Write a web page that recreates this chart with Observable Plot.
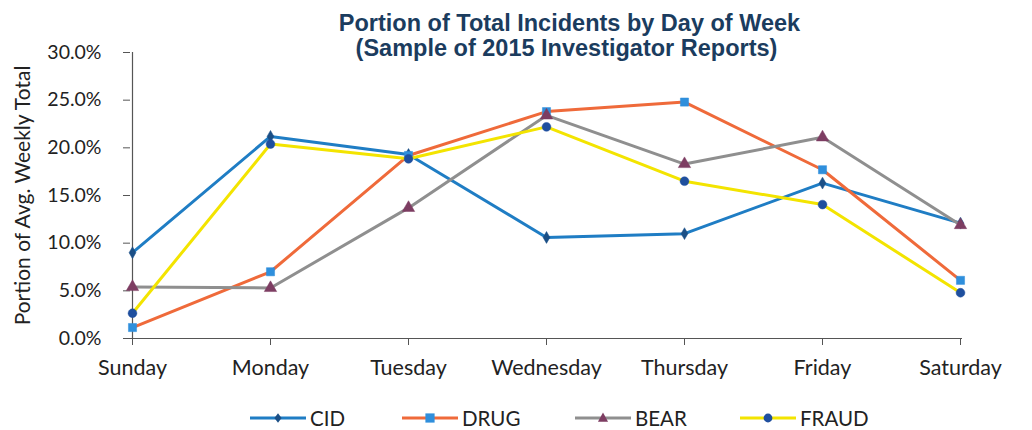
<!DOCTYPE html>
<html>
<head>
<meta charset="utf-8">
<script src="https://cdn.jsdelivr.net/npm/d3@7"></script>
<script src="https://cdn.jsdelivr.net/npm/@observablehq/plot@0.6"></script>
<style>
  body { margin: 0; background: #fff; width: 1032px; height: 430px; overflow: hidden; }
  #legend { position: relative; height: 35px; font-family: Lato, "Open Sans", sans-serif; font-size: 20.5px; color: #222; }
  .item { position: absolute; top: 12px; display: flex; align-items: center; gap: 4px; height: 22px; }
</style>
</head>
<body>
<div id="chart"></div>
<div id="legend"></div>
<script>
const days = ["Sunday", "Monday", "Tuesday", "Wednesday", "Thursday", "Friday", "Saturday"];
const seriesNames = ["CID", "DRUG", "BEAR", "FRAUD"];
const cid   = [0.090, 0.212, 0.193, 0.106, 0.110, 0.163, 0.121];
const drug  = [0.0115, 0.070, 0.192, 0.238, 0.248, 0.177, 0.061];
const bear  = [0.054, 0.053, 0.137, 0.234, 0.183, 0.211, 0.119];
const fraud = [0.0265, 0.204, 0.1885, 0.222, 0.165, 0.1405, 0.048];
const yTicks = [0, 0.05, 0.10, 0.15, 0.20, 0.25, 0.30];
const titleLines = ["Portion of Total Incidents by Day of Week", "(Sample of 2015 Investigator Reports)"];
const yLabel = "Portion of Avg. Weekly Total";

const styles = {
  CID:   {line: "#1f7dc4", mark: "#1b4f86", symbol: "diamond", r: 3.6},
  DRUG:  {line: "#ef6a3a", mark: "#2f8fdc", symbol: "square", r: 4.6},
  BEAR:  {line: "#8f8f8f", mark: "#7d3d62", symbol: "triangle", r: 4.6},
  FRAUD: {line: "#f3e400", mark: "#1f4f9e", symbol: "circle", r: 4.4}
};
const values = {CID: cid, DRUG: drug, BEAR: bear, FRAUD: fraud};
const data = seriesNames.flatMap(s => days.map((d, i) => ({series: s, day: d, value: values[s][i]})));

const font = 'Lato, "Open Sans", sans-serif';
const titleFont = '"Liberation Sans", Arial, sans-serif';
const marks = [];
marks.push(Plot.ruleY([0], {stroke: "#555", strokeWidth: 1.2}));
marks.push(Plot.ruleX([days[0]], {stroke: "#555", strokeWidth: 1.2}));
marks.push(Plot.axisY({ticks: yTicks, tickFormat: d3.format(".1%"), tickSize: 7, tickPadding: 22, fontSize: 19.5, fontFamily: font, label: null, stroke: "#555"}));
marks.push(Plot.axisX({tickSize: 7, tickPadding: 14, fontSize: 21.5, fontFamily: font, label: null, stroke: "#555"}));
for (const s of seriesNames) {
  const st = styles[s];
  const d = data.filter(r => r.series === s);
  marks.push(Plot.line(d, {x: "day", y: "value", stroke: st.line, strokeWidth: 3}));
  marks.push(Plot.dot(d, {x: "day", y: "value", symbol: st.symbol, r: st.r, fill: st.mark, stroke: st.mark, strokeWidth: 0.5}));
}
marks.push(Plot.text([titleLines[0]], {frameAnchor: "top", dx: 23, dy: -38, fontSize: 23.5, fontWeight: "bold", fontFamily: titleFont, fill: "#1b3c5e"}));
marks.push(Plot.text([titleLines[1]], {frameAnchor: "top", dx: 20, dy: -13, fontSize: 23.5, fontWeight: "bold", fontFamily: titleFont, fill: "#1b3c5e"}));
marks.push(Plot.text([yLabel], {frameAnchor: "left", textAnchor: "middle", dx: -107, rotate: -90, fontSize: 21, fontFamily: font, fill: "#222"}));

const chart = Plot.plot({
  width: 1032, height: 395,
  marginLeft: 130, marginRight: 70, marginTop: 52, marginBottom: 57,
  style: {fontFamily: font, color: "#222", background: "#fff", overflow: "visible"},
  x: {type: "point", domain: days, padding: 0},
  y: {domain: [0, 0.30]},
  marks
});
document.getElementById("chart").append(chart);

const legend = document.getElementById("legend");
const legendLeft = [250, 402, 575, 740];
const symPaths = {
  diamond: r => `M0,${-r*1.3}L${r},0L0,${r*1.3}L${-r},0Z`,
  square: r => `M${-r},${-r}h${2*r}v${2*r}h${-2*r}Z`,
  triangle: r => `M0,${-r*1.2}L${r*1.1},${r*0.8}L${-r*1.1},${r*0.8}Z`,
  circle: r => `M${r},0A${r},${r} 0 1,1 ${-r},0A${r},${r} 0 1,1 ${r},0Z`
};
seriesNames.forEach((s, i) => {
  const st = styles[s];
  const item = document.createElement("div");
  item.className = "item";
  item.style.left = legendLeft[i] + "px";
  item.innerHTML = `<svg width="56" height="14" viewBox="0 0 56 14"><line x1="0" y1="7" x2="56" y2="7" stroke="${st.line}" stroke-width="3"/><path transform="translate(28,7)" d="${symPaths[st.symbol](st.r)}" fill="${st.mark}"/></svg><span>${s}</span>`;
  legend.append(item);
});
</script>
</body>
</html>
